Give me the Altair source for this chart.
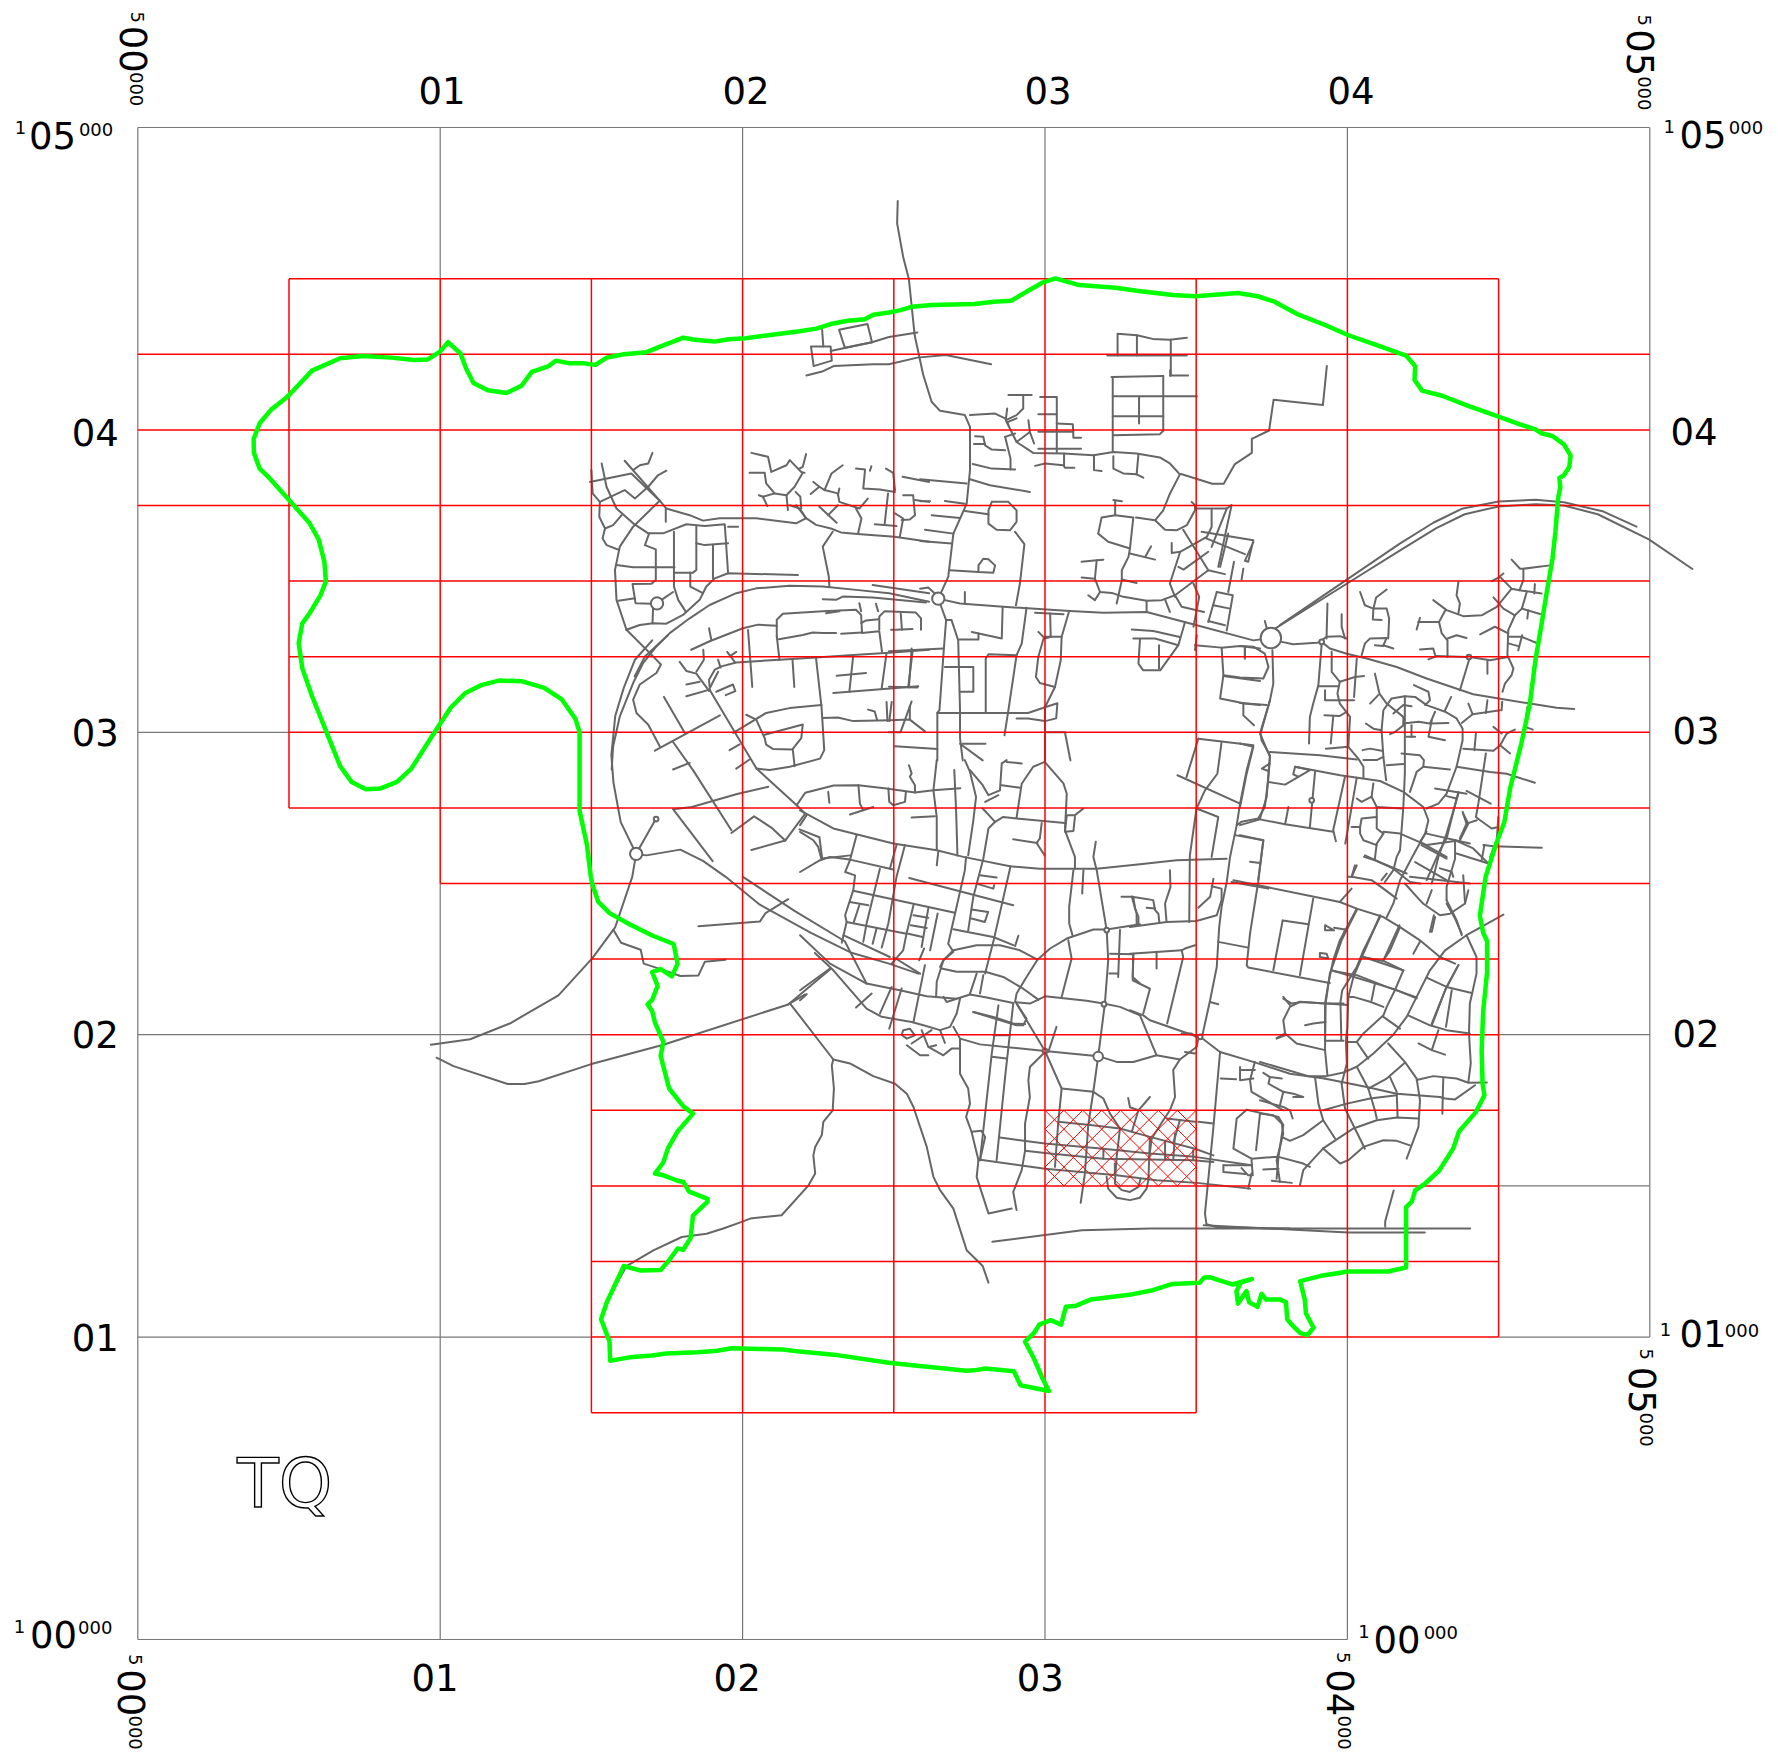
import altair as alt
import pandas as pd

# All coordinates are metres east / north of the sheet origin (TQ 500000, 100000)
grey_h = [(5000, 0, 5000), (3000, 0, 500), (2000, 0, 1500), (2000, 4500, 5000), (1500, 4500, 5000),
          (1000, 0, 1500), (1000, 4500, 5000), (0, 0, 4000)]
grey_v = [(0, 0, 5000), (1000, 0, 2500), (1000, 4500, 5000), (2000, 0, 750), (2000, 4500, 5000),
          (3000, 0, 750), (3000, 4500, 5000), (4000, 0, 1000), (4000, 4500, 5000), (5000, 1000, 5000)]
red_h = [(4500, 500, 4500), (4250, 0, 5000), (4000, 0, 5000), (3750, 0, 5000), (3500, 500, 5000),
         (3250, 500, 5000), (3000, 500, 5000), (2750, 500, 5000), (2500, 1000, 5000), (2250, 1500, 4500),
         (2000, 1500, 4500), (1750, 1500, 4500), (1500, 1500, 4500), (1250, 1500, 4500), (1000, 1500, 4500),
         (750, 1500, 3500)]
red_v = [(500, 2750, 4500), (1000, 2500, 4500), (1500, 750, 4500), (2000, 750, 4500), (2500, 750, 4500),
         (3000, 750, 4500), (3500, 750, 4500), (4000, 1000, 4500), (4500, 1000, 4500)]
# crossing hatch of the square 3000-3500 E, 1500-1750 N: n - e and n + e of each diagonal
hatch_up = [-2000, -1937.5, -1875, -1812.5, -1750, -1687.5, -1625, -1562.5, -1500, -1437.5, -1375, -1312.5, -1250]
hatch_down = [4500, 4562.5, 4625, 4687.5, 4750, 4812.5, 4875, 4937.5, 5000, 5062.5, 5125, 5187.5, 5250]

boundary = [(1026,4290),(1067,4253),(1086,4202),(1110,4155),(1157,4131),(1219,4122),(1269,4146),(1303,4192),(1359,4211),(1382,4229),(1429,4220),(1476,4220),(1513,4215),(1551,4239),(1607,4250),(1682,4257),(1729,4276),(1766,4290),(1804,4305),(1841,4298),(1907,4292),(1954,4300),(2010,4303),(2085,4313),(2188,4326),(2244,4335),(2291,4350),(2348,4361),(2404,4366),(2432,4381),(2484,4388),(2522,4396),(2559,4407),(2625,4413),(2766,4416),(2831,4424),(2888,4427),(2953,4465),(2994,4488),(3034,4501),(3113,4479),(3234,4470),(3309,4459),(3422,4446),(3497,4442),(3638,4453),(3703,4442),(3759,4424),(3834,4383),(3928,4346),(4003,4313),(4097,4280),(4194,4246),(4224,4211),(4222,4165),(4247,4130),(4313,4113),(4397,4080),(4500,4044),(4575,4017),(4622,4002),(4641,3989),(4678,3980),(4716,3952),(4738,3915),(4734,3878),(4716,3850),(4701,3841),(4704,3810),(4697,3776),(4688,3665),(4678,3573),(4659,3462),(4641,3351),(4622,3240),(4603,3092),(4575,2962),(4538,2814),(4519,2703),(4491,2629),(4457,2522),(4438,2393),(4449,2337),(4462,2309),(4462,2207),(4449,2078),(4444,1948),(4447,1837),(4453,1800),(4425,1744),(4369,1680),(4350,1624),(4303,1550),(4256,1507),(4224,1485),(4213,1448),(4194,1430),(4194,1230),(4134,1217),(4078,1217),(4003,1217),(3919,1204),(3844,1185),(3859,1124),(3863,1078),(3888,1031),(3868,1007),(3844,1013),(3816,1041),(3801,1059),(3797,1115),(3778,1124),(3731,1124),(3716,1143),(3703,1100),(3675,1115),(3666,1152),(3638,1111),(3633,1152),(3647,1180),(3684,1192),(3619,1174),(3572,1189),(3544,1198),(3525,1196),(3512,1180),(3422,1176),(3356,1155),(3291,1142),(3253,1137),(3150,1124),(3103,1104),(3069,1100),(3053,1041),(3019,1056),(2981,1041),(2963,1013),(2934,985),(2963,930),(2991,865),(3013,822),(2919,841),(2897,887),(2803,896),(2766,890),(2738,889),(2653,898),(2569,906),(2484,915),(2301,942),(2189,952),(2133,959),(2058,961),(1963,963),(1916,955),(1851,950),(1748,946),(1701,939),(1626,933),(1562,922),(1560,985),(1532,1059),(1551,1115),(1607,1235),(1663,1220),(1729,1222),(1757,1254),(1785,1293),(1804,1289),(1828,1328),(1836,1402),(1884,1448),(1884,1457),(1823,1481),(1804,1513),(1785,1517),(1738,1535),(1710,1541),(1738,1578),(1753,1624),(1785,1680),(1836,1739),(1804,1763),(1757,1822),(1729,1930),(1738,1976),(1710,2041),(1701,2078),(1686,2100),(1701,2115),(1719,2161),(1701,2207),(1729,2217),(1766,2193),(1785,2235),(1772,2300),(1701,2328),(1626,2365),(1560,2402),(1523,2439),(1504,2494),(1498,2522),(1485,2629),(1461,2740),(1461,3000),(1447,3045),(1401,3110),(1344,3147),(1269,3169),(1194,3171),(1138,3157),(1082,3129),(1035,3082),(969,2981),(904,2879),(857,2836),(801,2814),(754,2812),(707,2836),(669,2888),(632,2981),(576,3120),(544,3212),(532,3295),(544,3360),(567,3392),(604,3453),(622,3499),(617,3564),(598,3638),(567,3693),(501,3767),(435,3841),(403,3872),(384,3924),(383,3970),(403,4022),(441,4067),(491,4106),(529,4146),(576,4196),(669,4237),(744,4244),(838,4239),(913,4231),(959,4233),(997,4257),(1026,4290)]

roads_west = [
 [(1567,2877),(1572,2954),(1594,3053),(1638,3163),(1671,3229),(1715,3284),(1759,3328),(1825,3377),(1891,3421),(1979,3460),(2045,3476),(2155,3485),(2265,3482),(2375,3471),(2485,3460),(2617,3432)],
 [(1648,2598),(1597,2703),(1573,2833),(1566,2925),(1579,3055),(1607,3147),(1644,3240),(1701,3304)],
 [(1643,3185),(1677,3251),(1754,3322)],
 [(1616,3339),(1704,3251),(1730,3224),(1715,3196),(1660,3158),(1638,3108),(1649,3064),(1688,3025),(1726,2954)],
 [(1726,3766),(1638,3680),(1594,3614),(1578,3537),(1583,3438),(1616,3339)],
 [(1616,3339),(1660,3355),(1704,3361),(1748,3359),(1803,3388),(1858,3438),(1880,3482),(1908,3509),(1952,3526),(2183,3520)],
 [(1534,3889),(1550,3812),(1583,3740),(1638,3691),(1688,3658),(1737,3658),(1814,3688),(1875,3682),(1941,3688),(1952,3526)],
 [(1952,3680),(1985,3680)],
 [(1495,3828),(1632,3856),(1726,3766),(1748,3740),(1825,3718),(1869,3700),(1924,3708),(2045,3708),(2177,3691),(2210,3708)],
 [(2177,3751),(2210,3708),(2243,3686),(2292,3674),(2325,3661),(2380,3656),(2502,3647),(2617,3630)],
 [(1610,3898),(1726,3766)],
 [(1638,3867),(1660,3883),(1688,3889),(1702,3924)],
 [(1748,3865),(1720,3850),(1688,3812),(1644,3773),(1610,3801),(1528,3762),(1526,3713),(1545,3674),(1572,3685),(1600,3718)],
 [(1500,3867),(1504,3790),(1528,3762)],
 [(1545,3674),(1537,3641),(1550,3619),(1592,3603)],
 [(1746,3740),(1746,3696)],
 [(1691,3658),(1677,3619),(1713,3605),(1713,3504),(1699,3491),(1636,3490),(1646,3427),(1699,3425)],
 [(1583,3553),(1638,3546),(1775,3546)],
 [(1773,3663),(1773,3482),(1787,3438),(1812,3399)],
 [(1847,3680),(1847,3537),(1836,3528),(1775,3528)],
 [(1827,3528),(1827,3482),(1869,3460)],
 [(1847,3625),(1875,3619),(1952,3625)],
 [(1902,3619),(1902,3509)],
 [(1704,3413),(1702,3361)], [(1589,3435),(1644,3443)], [(1732,3438),(1770,3464)],
 [(1830,3273),(1891,3301),(2001,3344),(2051,3356),(2113,3352)],
 [(2113,3317),(2113,3372),(2133,3392),(2265,3400),(2375,3405),(2392,3388),(2395,3328),(2452,3334),(2461,3267)],
 [(2122,3240),(2113,3317)],
 [(2120,3308),(2199,3322),(2232,3330),(2265,3328),(2309,3328)],
 [(2326,3326),(2395,3330)],
 [(1889,3344),(1897,3304)],
 [(2392,3361),(2408,3370),(2450,3374)],
 [(2452,3339),(2452,3383),(2469,3400),(2573,3396),(2590,3377),(2590,3339)],
 [(2523,3392),(2527,3339)], [(2491,3339),(2507,3339),(2562,3342)],
 [(2276,3394),(2320,3400)], [(2441,3425),(2448,3400)], [(2386,3427),(2392,3400)],
 [(2265,3440),(2309,3438),(2331,3449),(2430,3446),(2606,3429)],
 [(2430,3487),(2617,3460)],
 [(2287,3482),(2285,3515),(2265,3614),(2298,3663)],
 [(1891,3150),(1889,3174),(1908,3207),(1930,3218),(1979,3231),(2122,3240),(2243,3247),(2353,3255),(2485,3263),(2617,3273)],
 [(1891,3145),(1919,3200)],
 [(2018,3338),(2032,3150)], [(2165,3240),(2171,3150)],
 [(2243,3244),(2261,3084),(2270,2941),(2256,2913),(2156,2886),(2090,2875),(2046,2880)],
 [(2366,3255),(2353,3134)], [(2311,3187),(2408,3196)], [(2300,3130),(2581,3152)],
 [(2476,3262),(2460,3146)], [(2562,3267),(2548,3152)],
 [(2265,3047),(2315,3049),(2366,3037),(2487,3040),(2553,3042),(2603,3003)],
 [(2553,3086),(2553,3042)], [(2415,3075),(2437,3069),(2445,3040)],
 [(2479,3037),(2476,3100)], [(2485,3037),(2493,3100)],
 [(2504,2954),(2644,2945)],
 [(1740,3117),(1809,2998)], [(1710,2939),(1925,3056)],
 [(1770,2968),(1836,2875),(1963,2676)],
 [(1891,3141),(1969,3009),(2046,2880),(2179,2759)],
 [(1814,3119),(1891,3141)],
 [(1792,3233),(1814,3203),(1847,3194),(1889,3137)],
 [(1870,3273),(1872,3240),(1847,3200)],
 [(1814,3158),(1858,3167)],
 [(1919,3240),(1927,3214)], [(1949,3266),(1974,3233)], [(1979,3266),(1957,3251)],
 [(1913,3134),(1968,3158),(1976,3136),(1944,3123)],
 [(1969,2998),(2078,3064),(2155,3080),(2261,3090)],
 [(2012,3058),(2045,3042),(2073,2981),(2078,2959),(2100,2945),(2164,2943),(2194,2981),(2199,3026),(2073,2992)],
 [(2166,2943),(2172,2888)],
 [(1957,2941),(1990,2960)], [(1979,2880),(2023,2910)], [(1770,2877),(1825,2899)],
 [(2029,3924),(2084,3911),(2095,3861),(2145,3883),(2156,3900),(2194,3861),(2205,3858)],
 [(2023,3858),(2073,3858),(2078,3823),(2106,3790),(2067,3779),(2054,3784)],
 [(2067,3779),(2082,3748)],
 [(2106,3790),(2145,3784),(2172,3812),(2199,3858)],
 [(2210,3920),(2199,3878),(2188,3872)],
 [(2145,3784),(2150,3735)],
 [(2175,3795),(2191,3779),(2194,3740)],
 [(2156,3751),(2189,3740),(2210,3708)],
 [(2331,3883),(2294,3856),(2271,3801),(2315,3790),(2320,3762),(2386,3740),(2414,3773)],
 [(2234,3828),(2254,3812),(2225,3788)], [(2254,3812),(2271,3801)], [(2320,3806),(2315,3784)],
 [(2254,3746),(2311,3693)], [(2315,3751),(2283,3718)],
 [(2375,3740),(2393,3707),(2382,3658)],
 [(2375,3872),(2405,3869),(2399,3806),(2454,3803),(2504,3795)],
 [(2426,3880),(2421,3865)],
 [(2474,3872),(2498,3858),(2504,3801)],
 [(2481,3790),(2470,3691)], [(2437,3688),(2509,3682)],
 [(2504,3724),(2531,3707),(2520,3647)],
 [(2531,3784),(2564,3784),(2570,3718),(2553,3704),(2526,3702)],
 [(2570,3768),(2617,3762)], [(2529,3845),(2617,3828)],
]

roads_north = [
 [(2513,4757),(2511,4683),(2531,4572),(2550,4498),(2569,4313),(2597,4183),(2625,4093),(2653,4063),(2735,4049),(2752,4010),(2752,3867),(2741,3756),(2697,3657),(2680,3514),(2647,3442)],
 [(2226,4276),(2291,4276),(2295,4229),(2235,4211),(2226,4276)],
 [(2263,4331),(2267,4276)],
 [(2319,4331),(2413,4350),(2428,4290),(2338,4272),(2319,4331)],
 [(2291,4261),(2428,4290)], [(2428,4290),(2484,4307),(2578,4322)],
 [(2211,4180),(2263,4193),(2301,4211),(2432,4217),(2484,4217),(2578,4239),(2672,4248),(2822,4217)],
 [(3206,4246),(3469,4246)],
 [(3240,4246),(3240,4318),(3304,4313),(3304,4246)],
 [(3304,4313),(3356,4301),(3413,4298),(3469,4305)],
 [(3416,4298),(3416,4180),(3473,4180)],
 [(3220,4175),(3391,4178)], [(3414,4197),(3414,4178)],
 [(3224,4175),(3224,3927)],
 [(3391,4178),(3391,3997),(3380,3986),(3226,3982)],
 [(3224,4111),(3502,4111)], [(3224,4045),(3391,4045)], [(3311,4109),(3311,4021)],
 [(3932,4211),(3919,4082),(3756,4100),(3741,3998),(3684,3970),(3684,3924),(3628,3887),(3591,3822),(3553,3822),(3450,3854)],
 [(2873,4027),(2906,3960),(2961,3924),(3061,3922),(3160,3916),(3226,3927),(3303,3922),(3380,3909),(3413,3889),(3446,3853)],
 [(2752,4049),(2835,4054),(2868,4038),(2879,4016)],
 [(2879,4115),(2956,4115)], [(2928,4115),(2928,4071),(2906,4049),(2871,4032)],
 [(2875,4071),(2871,4038)], [(2879,4027),(2906,4038)],
 [(2906,3960),(2950,3993)], [(2945,4032),(2950,3993),(2964,3955)],
 [(2868,3977),(2886,3905),(2886,3869)], [(2868,3977),(2901,3988)],
 [(2769,3979),(2796,3977),(2802,3949),(2824,3935),(2868,3933)],
 [(2765,3953),(2802,3953)],
 [(2761,3887),(2824,3872),(2901,3869)],
 [(2984,4109),(3039,4109),(3039,3927)], [(2978,4052),(3039,4052)],
 [(3039,4021),(3092,4019),(3094,3974),(3119,3974)],
 [(2978,3994),(3094,3994)], [(2978,3938),(3119,3938)],
 [(2967,3881),(3000,3889),(3061,3883),(3066,3875),(3097,3875)],
 [(3063,3922),(3063,3883)],
 [(3162,3916),(3162,3867),(3187,3864)],
 [(3226,3913),(3226,3872),(3259,3856),(3303,3853),(3325,3842)],
 [(3309,3920),(3303,3853)],
 [(2587,3837),(2741,3823)], [(2752,3837),(2818,3817),(2950,3795)],
 [(2587,3764),(2620,3764)], [(2669,3765),(2735,3756)],
 [(2735,3732),(2813,3721)],
 [(2824,3762),(2879,3762),(2906,3734),(2906,3696),(2884,3668),(2840,3670),(2813,3690),(2813,3734),(2824,3762)],
 [(2901,3663),(2932,3622),(2917,3492),(2904,3420)],
 [(2625,3718),(2719,3709)], [(2603,3670),(2697,3657)], [(2587,3633),(2691,3624)],
 [(2686,3536),(2780,3530),(2829,3528),(2835,3552),(2813,3572),(2796,3574),(2780,3552),(2780,3530)],
 [(2647,3442),(2719,3426),(2862,3415),(3083,3401),(3193,3395),(3336,3398),(3502,3354),(3689,3304),(3747,3312)],
 [(2735,3464),(2735,3426)],
 [(2860,3415),(2857,3310),(2758,3332)], [(2780,3327),(2780,3307),(2717,3307)],
 [(2939,3412),(2923,3293),(2906,3255),(2813,3258),(2804,3244),(2804,3064)],
 [(2906,3255),(2879,3073),(2866,2990)],
 [(2967,3395),(3061,3390)], [(3017,3393),(3019,3316)],
 [(3080,3401),(3055,3316),(3052,3238),(3033,3150),(3000,3083)],
 [(3019,3316),(3000,3310),(2978,3332)],
 [(2997,3316),(2978,3250),(2970,3183),(2983,3163),(3033,3150)],
 [(3000,3316),(3055,3316)],
 [(2664,3277),(2484,3268)],
 [(2587,3475),(2614,3479),(2636,3459)],
 [(2653,3426),(2673,3371),(2666,3282),(2651,3073),(2644,3064),(2644,2907)],
 [(2675,3371),(2691,3371),(2713,3304),(2719,3073),(2719,2981),(2728,2907)],
 [(2669,3216),(2763,3216),(2763,3134),(2719,3134)],
 [(2719,2962),(2794,2907)], [(2728,2962),(2803,2962)],
 [(2644,3064),(2944,3064),(3000,3083),(3041,3096),(3037,3046),(3000,3037),(2944,3046),(2906,3046)],
 [(3000,3000),(3066,3000),(3084,2907)], [(3000,3083),(3000,2907)],
 [(2484,3000),(2522,3000),(2559,3102)], [(2578,3148),(2484,3151)], [(2559,3277),(2550,3148)],
 [(3226,3768),(3254,3764)], [(3232,3764),(3232,3718)],
 [(3232,3718),(3187,3710),(3176,3657),(3209,3630),(3281,3608)],
 [(3232,3718),(3292,3710),(3281,3608),(3276,3580),(3254,3536),(3254,3503),(3237,3426)],
 [(3281,3591),(3364,3571)], [(3351,3615),(3331,3580)], [(3254,3505),(3303,3494)],
 [(3121,3564),(3171,3569),(3193,3571)], [(3171,3569),(3165,3508),(3121,3512)],
 [(3165,3508),(3182,3464),(3221,3461),(3259,3448),(3336,3435),(3386,3437),(3430,3453),(3540,3536)],
 [(3182,3464),(3165,3437),(3143,3453)],
 [(3336,3435),(3336,3398)], [(3397,3439),(3413,3398)],
 [(3430,3453),(3452,3415),(3526,3398)],
 [(3301,3710),(3364,3701),(3391,3734),(3413,3789),(3446,3853)],
 [(3364,3701),(3397,3670),(3435,3668),(3469,3685),(3496,3734),(3496,3751),(3485,3762)],
 [(3457,3670),(3540,3536),(3595,3523)],
 [(3413,3492),(3447,3597),(3535,3646),(3551,3679),(3551,3737)],
 [(3502,3740),(3601,3740)], [(3441,3547),(3458,3538),(3540,3597)],
 [(3413,3492),(3430,3448)], [(3419,3626),(3419,3593),(3447,3597)],
 [(3491,3492),(3510,3448),(3491,3349)],
 [(3601,3740),(3551,3613)], [(3617,3751),(3573,3547)], [(3601,3740),(3617,3751)],
 [(3518,3663),(3689,3635),(3672,3564),(3661,3567),(3689,3629)],
 [(3529,3643),(3661,3589)], [(3606,3657),(3579,3547)],
 [(3625,3564),(3606,3464)], [(3656,3541),(3650,3505)],
 [(3568,3464),(3621,3453),(3601,3337)], [(3568,3464),(3540,3365)],
 [(3557,3420),(3612,3409)], [(3540,3368),(3595,3354)],
 [(3287,3340),(3358,3335),(3446,3315)], [(3292,3310),(3364,3310),(3441,3288)],
 [(3463,3365),(3441,3288),(3381,3205),(3325,3205),(3309,3227),(3314,3307)],
 [(3377,3288),(3377,3211)], [(3502,3321),(3496,3272)],
 [(3496,3288),(3584,3280),(3645,3285),(3711,3277)],
 [(3584,3280),(3590,3189),(3579,3112),(3661,3095),(3711,3090)],
 [(3595,3185),(3711,3170)], [(3661,3277),(3661,3244)],
]

roads_east = [
 [(3778,3355),(4003,3508),(4172,3623),(4284,3693),(4378,3739),(4500,3763),(4622,3769),(4716,3761),(4847,3730),(4956,3680)],
 [(3759,3342),(4007,3497),(4181,3606),(4294,3675),(4388,3721),(4500,3747),(4622,3754),(4716,3750),(4828,3721),(4997,3638),(5141,3540)],
 [(3727,3368),(3733,3346)],
 [(3783,3299),(3821,3291),(3898,3296),(3915,3299),(3942,3277),(3998,3260),(4064,3244),(4163,3216),(4262,3178),(4416,3126),(4604,3095),(4692,3081),(4750,3077)],
 [(3915,3304),(3931,3316),(3975,3318),(3998,3310)],
 [(3934,3426),(3931,3310)], [(3981,3390),(3981,3349),(3992,3310)],
 [(3915,3293),(3904,3156),(3887,3095),(3876,3051),(3873,2963)],
 [(3904,3152),(3970,3152)],
 [(3948,3266),(3948,3200),(3975,3167),(4025,3183),(4055,3186)],
 [(3975,3167),(3967,3128),(3975,3095),(4009,3051),(4003,2952),(4036,2913),(4053,2886),(4053,2851)],
 [(3926,3139),(3926,3106),(4022,3106)], [(4031,3244),(4022,3117)],
 [(3924,3056),(3975,3054),(3998,3068)], [(3953,3051),(3945,2963)], [(3929,2946),(4003,2952)],
 [(3645,3097),(3733,3090)], [(3656,3095),(3656,3056),(3691,3023)],
 [(3752,3271),(3755,3161),(3744,3106),(3713,2996),(3716,2974),(3744,2924),(3739,2864),(3733,2786),(3711,2715)],
 [(3645,3285),(3689,3283),(3727,3260),(3739,3216),(3722,3178),(3645,3181),(3590,3189)],
 [(3661,3280),(3661,3244)],
 [(3645,2963),(3689,2952),(3667,2864),(3645,2753)],
 [(3744,2935),(3909,2924),(4031,2910)],
 [(3744,2897),(3717,2880),(3739,2872)],
 [(3739,2836),(3794,2827),(3876,2875),(3827,2886),(3821,2861),(3838,2853)],
 [(3827,2886),(3976,2858),(4108,2839),(4185,2803),(4251,2753),(4268,2709),(4257,2665),(4218,2594),(4174,2511),(4152,2434),(4130,2389)],
 [(3893,2869),(3876,2687)],
 [(3992,2853),(3953,2676),(3962,2640)],
 [(3711,2712),(3794,2696),(3953,2671)],
 [(3805,2753),(3794,2696)], [(3645,2693),(3711,2712)],
 [(3645,2660),(3722,2643),(3705,2511)], [(3678,2572),(3711,2568)],
 [(4031,2850),(3993,2632)],
 [(4031,2781),(4047,2770),(4080,2787),(4097,2753),(4097,2682),(4119,2665)],
 [(4086,2831),(4080,2787)], [(4097,2753),(4179,2748)],
 [(4014,2687),(4042,2687),(4042,2665),(4053,2643),(4097,2627)],
 [(4042,2687),(4047,2715),(4097,2720)],
 [(4119,2665),(4097,2632),(4091,2583)],
 [(4119,2671),(4174,2665),(4262,2627),(4361,2641),(4416,2616),(4466,2566)],
 [(4091,3194),(4106,3128),(4130,3095),(4185,3051),(4185,3023),(4157,3001),(4141,2994)],
 [(4102,3123),(4075,3095)], [(4061,3029),(4086,3012),(4113,3007)],
 [(4190,3119),(4146,3112),(4119,3073),(4113,3007),(4119,2919),(4128,2842)],
 [(4190,3119),(4224,3117),(4262,3090),(4323,3068),(4361,3046),(4381,3012),(4381,2974),(4361,2886),(4328,2797),(4301,2764),(4262,2748)],
 [(4190,3117),(4190,2864),(4185,2753),(4174,2610),(4163,2588),(4152,2544),(4124,2505)],
 [(4152,3062),(4185,3090),(4212,3086)],
 [(4185,3029),(4235,3035),(4273,3029),(4334,3031)],
 [(4279,3040),(4268,2985),(4323,2974)], [(4290,3068),(4273,3029)],
 [(4196,2985),(4224,2985)], [(4212,3023),(4212,2985)],
 [(4050,2941),(4075,2946),(4113,2939)], [(4053,2908),(4097,2908),(4119,2919)],
 [(4130,2891),(4185,2895)],
 [(4179,2930),(4240,2924),(4253,2908),(4251,2886),(4229,2869),(4207,2803)],
 [(4251,2886),(4339,2877)],
 [(4361,2886),(4472,2869),(4527,2863),(4620,2833)],
 [(4290,2814),(4394,2797)], [(4328,2789),(4361,2781)], [(4394,2806),(4474,2764)],
 [(4383,2946),(4483,2939),(4505,2957),(4527,2996),(4554,3009)],
 [(4483,3018),(4510,2996)], [(4505,2957),(4538,2930)],
 [(4458,2930),(4433,2764),(4425,2720),(4439,2709),(4477,2682),(4499,2687)],
 [(4425,2996),(4420,2941)],
 [(4367,2803),(4328,2649),(4306,2610),(4262,2511)],
 [(4381,2737),(4394,2698),(4372,2649)], [(4394,2698),(4428,2709)],
 [(4499,2720),(4494,2643),(4472,2588)],
 [(4450,2627),(4483,2623),(4643,2618)], [(4453,2627),(4444,2577)],
 [(4361,2599),(4461,2568)],
 [(4262,2671),(4240,2638),(4328,2588)], [(4224,2571),(4328,2511)],
 [(4055,2588),(4091,2577),(4196,2533)], [(4130,2533),(4113,2511)],
 [(4306,2550),(4345,2539),(4350,2522)], [(4025,2560),(4014,2522),(4003,2522)],
 [(4543,3571),(4571,3541),(4582,3541),(4670,3552)],
 [(4582,3541),(4582,3503),(4569,3470),(4543,3475),(4505,3514),(4477,3500)],
 [(4516,3525),(4499,3512)],
 [(4569,3470),(4642,3459)], [(4620,3490),(4618,3459)],
 [(4593,3464),(4577,3409),(4554,3387),(4532,3338),(4529,3255),(4549,3211),(4543,3189),(4521,3161),(4513,3134)],
 [(4483,3446),(4516,3409),(4554,3387)],
 [(4577,3409),(4637,3391)], [(4598,3404),(4595,3376)],
 [(4543,3475),(4494,3415),(4444,3387),(4383,3384),(4328,3404),(4284,3437)],
 [(4367,3497),(4361,3453),(4372,3426),(4367,3393)],
 [(4323,3402),(4303,3365),(4312,3327),(4331,3304),(4331,3249)],
 [(4240,3379),(4229,3340)], [(4234,3365),(4303,3365)],
 [(4331,3310),(4361,3321),(4394,3312)],
 [(4439,3324),(4488,3349),(4532,3327)],
 [(4532,3316),(4576,3316),(4624,3296)],
 [(4532,3294),(4565,3285)], [(4578,3321),(4565,3271)],
 [(4268,3241),(4295,3252),(4394,3249),(4405,3249),(4472,3238),(4532,3249)],
 [(4240,3274),(4284,3277),(4290,3255)], [(4463,3236),(4463,3194)],
 [(4402,3238),(4372,3139)],
 [(4042,3464),(4058,3420),(4086,3409),(4130,3409),(4138,3376),(4135,3310)],
 [(4130,3472),(4095,3446),(4086,3409),(4084,3373),(4113,3371)],
 [(4047,3255),(4058,3294),(4075,3310),(4130,3312),(4119,3288),(4152,3277)],
 [(4091,3288),(4119,3285)],
 [(4220,3156),(4268,3134),(4273,3106),(4257,3090)],
 [(4343,3117),(4323,3073)],
 [(4400,3095),(4414,3060),(4505,3073)], [(4414,3060),(4378,3031)],
 [(4463,3106),(4458,3064)], [(4512,3101),(4510,3073)],
 [(4595,3084),(4588,3018),(4613,3009)],
]

roads_centre = [
 [(1648,2598),(1682,2593),(1794,2612),(1869,2575),(1944,2522),(2057,2430),(2226,2337),(2357,2272),(2484,2235),(2581,2202)],
 [(2001,2522),(2169,2411),(2338,2309),(2410,2169)] ,
 [(2190,2742),(2300,2682),(2498,2632),(2642,2610),(2730,2588),(2884,2557),(2983,2549),(3105,2549),(3171,2549),(3314,2564),(3435,2577),(3601,2582)],
 [(2190,2538),(2256,2577),(2289,2588),(2355,2579),(2498,2546)],
 [(2179,2759),(2207,2800),(2301,2824),(2383,2825),(2476,2814),(2570,2801),(2631,2808),(2720,2815)],
 [(1770,2746),(1901,2574)],
 [(1776,2746),(1832,2753),(1982,2796),(2085,2820)],
 [(1963,2667),(2038,2722),(2095,2685),(2141,2642)],
 [(2141,2642),(2207,2731),(2179,2759)],
 [(2029,2611),(2141,2642)],
 [(2188,2679),(2254,2653),(2263,2583),(2357,2593)],
 [(2190,2329),(2289,2235),(2410,2169),(2520,2147),(2609,2127),(2708,2119),(2752,2133),(2807,2123),(2895,2105)],
 [(2239,2270),(2300,2213),(2410,2086),(2460,2059),(2559,2042),(2598,2031),(2653,2015),(2686,2026),(2708,2070),(2719,2119)],
 [(2190,2147),(2289,2219)], [(2190,2114),(2212,2134)],
 [(2190,2671),(2234,2643),(2250,2621),(2261,2579)],
 [(2190,2693),(2212,2726)],
 [(2283,2803),(2287,2767)], [(2383,2825),(2388,2764),(2399,2742)], [(2355,2728),(2432,2753)],
 [(2482,2814),(2485,2770),(2498,2759),(2537,2770),(2540,2803)],
 [(2631,2808),(2642,2720),(2642,2612)], [(2559,2718),(2636,2722)],
 [(2550,2891),(2559,2864),(2553,2853),(2570,2825),(2570,2801)],
 [(2642,2908),(2631,2808)],
 [(2700,2875),(2706,2742),(2710,2610),(2710,2593)],
 [(2752,2875),(2794,2825),(2813,2792),(2851,2808),(2857,2897),(2873,2908)],
 [(2735,2908),(2752,2869),(2772,2786),(2763,2709),(2746,2593)],
 [(2857,2825),(2917,2817)], [(2873,2902),(2923,2897)],
 [(2802,2770),(2846,2792)], [(2794,2748),(2835,2704)],
 [(2999,2902),(2961,2886),(2923,2830),(2906,2718)],
 [(2999,2902),(3061,2831),(3072,2797),(3066,2676),(3099,2588),(3099,2549)],
 [(3127,2748),(3099,2726),(3072,2726),(3066,2671),(3094,2674),(3099,2720)],
 [(2835,2704),(2862,2720),(2906,2715),(3066,2700)],
 [(2835,2704),(2813,2682),(2796,2582),(2763,2456),(2746,2345)],
 [(2989,2700),(2983,2649),(2972,2634),(2999,2593)], [(2895,2646),(2975,2634)],
 [(2739,2588),(2735,2544),(2680,2301),(2697,2274),(2664,2246),(2642,2175),(2640,2130)],
 [(2647,2604),(2642,2560)],
 [(2377,2660),(2355,2577),(2339,2538),(2372,2527),(2366,2478),(2339,2395),(2344,2373),(2328,2304)],
 [(2454,2549),(2410,2368),(2399,2307)],
 [(2537,2627),(2509,2522),(2482,2368),(2460,2288)], [(2509,2627),(2487,2549)],
 [(2366,2476),(2702,2403)], [(2355,2439),(2416,2428)], [(2386,2428),(2368,2373)],
 [(2344,2373),(2542,2334)], [(2443,2351),(2430,2301)],
 [(2565,2428),(2542,2334),(2531,2279),(2493,2235)],
 [(2565,2395),(2614,2387)], [(2556,2362),(2609,2353)], [(2548,2334),(2595,2323)],
 [(2614,2417),(2592,2290)], [(2645,2401),(2620,2279)], [(2600,2285),(2584,2246)],
 [(2551,2518),(2895,2428)],
 [(2333,2329),(2487,2257)], [(2498,2257),(2587,2202)],
 [(2603,2230),(2565,2042)], [(2526,2153),(2485,2020)], [(2493,2158),(2454,2070)],
 [(2427,2136),(2375,2090)],
 [(2785,2527),(2840,2520)], [(2779,2498),(2829,2483),(2832,2494)],
 [(2757,2414),(2812,2406),(2801,2373),(2757,2384)],
 [(2886,2557),(2829,2307),(2802,2202)],
 [(2697,2349),(2829,2323),(2895,2296)], [(2912,2327),(2901,2293)],
 [(2653,2224),(2664,2246),(2697,2279),(2774,2296),(2851,2296),(2917,2279),(2975,2248)],
 [(2658,2219),(2708,2208),(2802,2208),(2862,2191),(2928,2152),(2978,2116)],
 [(2978,2116),(3000,2127),(3138,2112),(3193,2103),(3248,2092),(3314,2064),(3369,1932)],
 [(2975,2248),(2939,2191),(2906,2136),(2901,2108),(2950,2103),(2978,2116)],
 [(2975,2248),(3017,2285),(3072,2318),(3160,2348),(3204,2348),(3314,2365)],
 [(3077,2312),(3088,2252),(3055,2125)],
 [(3094,2544),(3080,2423),(3080,2368),(3091,2329)],
 [(3127,2544),(3123,2467)],
 [(3168,2638),(3160,2588),(3171,2544),(3204,2346),(3209,2246),(3198,2103),(3176,1929),(3160,1813),(3143,1701),(3132,1541),(3118,1444)],
 [(3253,2456),(3292,2456),(3298,2417),(3309,2390),(3309,2365)],
 [(3248,2346),(3242,2191)],
 [(3215,2268),(3292,2266),(3290,2191),(3314,2169)],
 [(3213,2202),(3242,2202)],
 [(2664,2125),(2675,2108),(2708,2119)],
 [(2763,2075),(2906,2031),(2928,2031),(2939,2053),(2906,2103)],
 [(2774,2202),(2752,2136)], [(2796,2197),(2785,2136)],
 [(2846,2097),(2824,1938),(2796,1684),(2785,1585)],
 [(2895,2103),(2868,1860),(2840,1585)],
 [(2829,1998),(2884,1998)], [(2824,1927),(2873,1921)],
 [(2906,2103),(3000,1946),(3055,1822),(3044,1712),(3033,1563)],
 [(3038,2026),(3011,1943)],
 [(2697,2026),(2719,1987),(2785,1968),(3000,1946),(3176,1929)],
 [(3000,1943),(2950,1893),(2945,1849),(2950,1794),(2934,1706),(2934,1616),(2923,1552),(2895,1480),(2906,1420)],
 [(2719,1987),(2719,1871),(2746,1822),(2752,1772),(2739,1728),(2757,1679),(2790,1682),(2802,1662),(2785,1585)],
 [(2757,1679),(2780,1585)],
 [(3176,1929),(3237,1910),(3292,1910),(3369,1932),(3446,1918),(3502,1960),(3507,1987),(3485,2004),(3452,2004)],
 [(2531,2015),(2553,2020),(2570,1998),(2543,1987),(2526,1999),(2531,2015)],
 [(2559,1971),(2625,2015)], [(2543,1965),(2587,1932),(2614,1932)],
 [(2592,2015),(2614,1960),(2664,1932),(2691,1954),(2719,1954)],
 [(2653,2015),(2669,1973)], [(2620,1960),(2640,1965)],
 [(3055,1822),(3160,1811),(3193,1789),(3215,1739),(3248,1690)],
 [(3446,1918),(3424,1883),(3430,1794),(3413,1750),(3391,1717),(3353,1657),(3345,1596)],
 [(3496,1938),(3463,1943)],
 [(3513,1993),(3579,1943),(3689,1910),(3810,1871),(3924,1855)],
 [(3579,1943),(3557,1695),(3529,1409),(3534,1373),(3567,1364),(3810,1359)],
 [(3581,1855),(3632,1853)], [(3645,1893),(3645,1849),(3689,1855)], [(3650,1883),(3694,1883)],
 [(3694,1910),(3678,1849),(3683,1811),(3788,1750)],
 [(3667,1752),(3634,1723),(3623,1623),(3683,1590)],
 [(3667,1752),(3772,1728),(3788,1701),(3772,1596),(3766,1524)],
 [(3711,1739),(3698,1618)],
 [(3683,1590),(3733,1594),(3772,1596),(3854,1574),(3876,1563)],
 [(3590,1568),(3590,1546),(3662,1539)], [(3590,1568),(3683,1568)],
 [(3683,1585),(3687,1535),(3672,1535),(3650,1559)], [(3683,1541),(3672,1491)],
 [(3722,1554),(3772,1557)], [(3750,1517),(3816,1510)],
 [(3044,1712),(3149,1701),(3248,1690),(3347,1662),(3496,1623),(3557,1601)],
 [(3507,1712),(3557,1706)], [(3402,1723),(3496,1712)],
 [(2851,1660),(3000,1640),(3193,1623),(3347,1607),(3496,1596),(3683,1568)],
 [(2934,1616),(3000,1609),(3193,1590),(3490,1585),(3557,1579)],
 [(2780,1587),(3000,1557),(3237,1535),(3369,1519),(3502,1510),(3678,1491)],
 [(2763,2075),(2829,2059),(2895,2037),(2934,2035)],
 [(2780,1585),(2774,1530),(2813,1409),(2890,1425)],
 [(3275,1791),(3281,1760),(3309,1750),(3347,1794)], [(3309,1750),(3287,1679)],
 [(3248,1690),(3237,1596),(3231,1508),(3237,1502),(3254,1486),(3281,1480),(3309,1497),(3316,1524)],
 [(3204,1530),(3209,1491),(3237,1461),(3281,1453),(3314,1461),(3336,1491),(3342,1519)],
 [(3347,1662),(3342,1519)],
 [(3193,1623),(3193,1590)], [(3397,1646),(3397,1590)], [(3430,1673),(3424,1585)],
 [(3446,1717),(3424,1640)], [(3490,1618),(3490,1585)], [(3231,1574),(3231,1535)],
 [(2826,1315),(3122,1353),(3347,1359),(4406,1359)],
 [(3525,1370),(4003,1346),(4256,1346)],
 [(4153,1485),(4125,1383),(4125,1365)],
]

roads_south = [
 [(988,1924),(1044,1896),(1223,1837),(1279,1837),(1326,1846),(1497,1902),(1738,1967),(2151,2100),(2207,2133)],
 [(2151,2100),(2291,2217)],
 [(2157,2103),(2300,1918),(2295,1899),(2302,1822),(2298,1750),(2267,1712),(2262,1668),(2240,1629),(2234,1601),(2240,1541),(2218,1502),(2129,1403),(2025,1392),(1997,1381),(1936,1359),(1881,1342),(1799,1331),(1705,1287),(1616,1235),(1545,1107)],
 [(2300,1918),(2355,1905),(2432,1863),(2504,1838),(2543,1805),(2565,1761),(2609,1629),(2631,1530),(2653,1486),(2697,1425),(2741,1287),(2794,1235),(2813,1180)],
 [(969,1967),(1099,1985),(1230,2037),(1391,2130),(1504,2254),(1579,2356),(1635,2522),(1648,2598)],
 [(1573,2346),(1598,2304),(1663,2281),(1673,2235),(1729,2217),(1794,2194),(1854,2196),(1875,2241),(1944,2248)],
 [(1854,2359),(2057,2374),(2076,2402),(2151,2448)],
 [(1648,2598),(1713,2713)],
]

roads_southeast = [
 [(3507,2979),(3689,2957),(3667,2875),(3645,2764),(3634,2693),(3612,2588),(3601,2505),(3584,2423),(3576,2356),(3568,2224),(3546,2114),(3518,1987)],
 [(3507,2979),(3468,2852)],
 [(3584,2968),(3570,2863),(3529,2808),(3501,2748),(3479,2593),(3477,2373)],
 [(3438,2858),(3645,2764)],
 [(3501,2748),(3573,2720),(3551,2588)],
 [(3634,2693),(3650,2704),(3705,2715),(3727,2753),(3738,2841),(3744,2919),(3711,2996),(3744,3106)],
 [(3628,2660),(3722,2643),(3705,2505),(3678,2334),(3667,2230),(3672,2222),(3942,2171)],
 [(3413,2544),(3415,2489),(3397,2434),(3402,2373)],
 [(3281,2356),(3402,2373),(3501,2376),(3568,2395),(3584,2445),(3584,2483),(3551,2491)],
 [(3557,2516),(3546,2456),(3507,2420)],
 [(3287,2456),(3309,2453),(3358,2445),(3364,2412),(3375,2400),(3378,2373)],
 [(3287,2456),(3303,2400),(3303,2362)], [(3336,2420),(3364,2417)],
 [(3281,2268),(3452,2279),(3463,2285),(3496,2296)],
 [(3452,2279),(3457,2257),(3404,2037)],
 [(3292,2268),(3290,2180),(3347,2152),(3325,2070)],
 [(3369,2274),(3369,2219)],
 [(3281,2081),(3325,2064),(3347,2048),(3490,1998),(3518,1987)],
 [(3573,2307),(3672,2288)],
 [(3623,2511),(3705,2494),(3975,2439),(4031,2417),(4119,2389),(4174,2356),(4240,2312),(4306,2257),(4356,2235)],
 [(3617,2505),(3738,2483)], [(3975,2439),(4014,2483)],
 [(3887,2450),(3843,2197)],
 [(3786,2378),(3871,2365)], [(3786,2378),(3755,2213)],
 [(3926,2362),(3956,2345),(3926,2345),(3926,2362)], [(3956,2354),(3992,2348)], [(3987,2329),(3992,2348)],
 [(3909,2270),(3931,2268),(3937,2252),(3909,2257),(3909,2270)],
 [(4031,2417),(3975,2312),(3953,2246),(3937,2169),(3926,2103),(3926,1982)],
 [(4108,2389),(4053,2279),(4031,2224),(3983,2147),(3977,2108),(3980,1982)],
 [(4174,2356),(4141,2279),(4119,2246)], [(4240,2307),(4218,2268)],
 [(4053,2257),(4179,2215)],
 [(3953,2211),(4031,2197),(4130,2158),(4229,2123)],
 [(4367,2230),(4328,2158),(4279,2037)],
 [(3788,2119),(3816,2103),(3849,2108),(3926,2103),(3987,2103)],
 [(3766,1987),(3794,1998)],
 [(3546,2108),(3573,2101)],
 [(4058,2593),(4152,2549),(4207,2505),(4240,2500)],
 [(4014,2522),(4031,2560)], [(4014,2522),(4080,2511),(4119,2483),(4163,2450)],
 [(4190,2500),(4235,2450),(4251,2433),(4306,2395),(4339,2400),(4389,2434),(4400,2478)],
 [(4328,2434),(4356,2384),(4378,2334)], [(4290,2389),(4279,2340)],
 [(4207,2522),(4405,2500)], [(4262,2665),(4405,2632)], [(4245,2627),(4328,2582)],
 [(4367,2797),(4328,2665),(4301,2588),(4279,2500)],
 [(4383,2731),(4400,2698),(4372,2643)],
 [(4356,2643),(4356,2582),(4328,2489),(4328,2445)],
 [(4383,2527),(4389,2434)], [(4279,2478),(4262,2433)],
 [(4516,2397),(4394,2329),(4323,2279),(4273,2213),(4229,2125),(4196,2059),(4152,2000),(4086,1938),(4031,1894),(3987,1875),(3931,1863),(3871,1863),(3711,1910)],
 [(4394,2329),(4427,2257),(4427,2202),(4405,2103),(4402,2004),(4408,1905),(4400,1844)],
 [(4262,2189),(4328,2158),(4411,2138)],
 [(4367,2230),(4323,2147),(4290,2059),(4279,2031)],
 [(4345,2147),(4326,2026)],
 [(4201,2064),(4273,2031),(4328,2015),(4405,2004)],
 [(4301,2015),(4279,1949),(4323,1934)], [(4235,1971),(4279,1949)],
 [(4031,2412),(3981,2313),(3942,2202),(3928,2103),(3926,1949),(3934,1866)],
 [(3948,2213),(4157,2150),(4229,2120)],
 [(4108,2395),(4053,2268),(4020,2191),(4003,2125),(4000,2026),(3995,1982),(3998,1905),(3981,1838)],
 [(4172,2362),(4119,2246)],
 [(4050,2257),(4119,2244),(4185,2213)],
 [(4185,2213),(4157,2147),(4130,2092),(4119,2064),(4053,2004),(4031,1976),(4003,1976)],
 [(4003,2125),(4020,2125),(4075,2109),(4119,2092)],
 [(4091,2169),(4080,2114)], [(4119,2059),(4174,2020)], [(3931,2103),(4000,2098)],
 [(3926,2103),(3843,2109),(3810,2092),(3788,2048),(3794,2004),(3832,1971),(3926,1949)],
 [(3788,2125),(3810,2098)], [(3860,2031),(3887,2037),(3928,2042)], [(3794,2004),(3766,1989)],
 [(3926,1980),(3987,1980)], [(4031,1976),(4069,1921)],
 [(4135,1971),(4190,1910),(4229,1855),(4240,1783),(4235,1695),(4196,1590)],
 [(4190,1907),(4130,1855),(4069,1822)],
 [(4031,1894),(4069,1822),(4091,1750),(4097,1723)],
 [(4141,1860),(4163,1811),(4166,1728)],
 [(3924,1855),(4064,1827),(4163,1805),(4306,1794)],
 [(4229,1850),(4284,1863),(4361,1855),(4400,1841),(4461,1842)],
 [(4317,1855),(4314,1739)],
 [(4422,1833),(4356,1786),(4323,1789),(4306,1794)],
 [(3893,1860),(3904,1772),(3920,1717),(3959,1657)],
 [(3981,1838),(3992,1756),(4058,1623)],
 [(3920,1750),(3998,1772),(4075,1789),(4163,1800)],
 [(3920,1624),(4020,1690),(4097,1717),(4163,1726),(4235,1723)],
 [(3843,1502),(3854,1552),(3920,1624)],
 [(3920,1624),(3976,1574),(4003,1585),(4053,1629),(4119,1651),(4163,1649),(4207,1634)],
 [(3711,1739),(3755,1734),(3783,1706),(3788,1673),(3766,1585),(3777,1513)],
 [(3783,1662),(3810,1649),(3854,1668),(3920,1717)],
 [(3744,1860),(3739,1838),(3788,1811),(3821,1805),(3854,1794),(3821,1794)],
 [(3722,1874),(3744,1860),(3783,1855)],
 [(3788,1811),(3777,1767)],
 [(3711,1783),(3788,1761),(3810,1750),(3819,1723)],
 [(4328,2445),(4361,2379),(4378,2329)],
 [(4273,2340),(4286,2395)],
]

big_round = [(3747, 3312)]
mid_round = [(2647, 3442), (1648, 2598), (1717, 3426)]
minor_round = [(3176, 1928)]
small_round = [(3204, 2346), (3195, 2101), (3882, 2775), (4402, 3249), (1714, 2713), (3513, 1993), (3000, 1946), (3915, 3299)]

big_labels = [("01", 1006, 5077), ("02", 2011, 5077), ("03", 3010, 5077), ("04", 4012, 5077),
              ("01", 983, -171), ("02", 1982, -171), ("03", 2984, -171),
              ("04", -141, 3946), ("03", -141, 2954), ("02", -141, 1955), ("01", -141, 953),
              ("04", 5146, 3949), ("03", 5153, 2960), ("02", 5153, 1959),
              ("05", -282, 4928), ("05", 5176, 4932), ("00", -279, -29), ("01", 5176, 967), ("00", 4164, -45)]
small_labels = [("1", -388, 4978), ("000", -138, 4971), ("1", 5064, 4981), ("000", 5318, 4978),
                ("1", -391, 21), ("000", -141, 17), ("1", 5052, 1003), ("000", 5305, 1000),
                ("1", 4055, 4), ("000", 4309, 1)]
big_side = [("00", -59, 5259), ("05", 4925, 5247), ("00", -65, -176), ("05", 4931, 824), ("04", 3933, -176)]
small_side = [("5", -22, 5365), ("000", -26, 5127), ("5", 4961, 5355), ("000", 4961, 5113),
              ("5", -29, -67), ("000", -29, -308), ("5", 4968, 943), ("000", 4968, 694),
              ("5", 3966, -60), ("000", 3969, -308)]
sheet_label = [("TQ", 329, 437)]

X = alt.X("e:Q", axis=None, scale=alt.Scale(domain=[0, 5000], nice=False, zero=False))
Y = alt.Y("n:Q", axis=None, scale=alt.Scale(domain=[0, 5000], nice=False, zero=False))


def segments(horizontal, vertical):
    rows = []
    for n, a, b in horizontal:
        rows.append(dict(e=a, e2=b, n=n, n2=n))
    for e, a, b in vertical:
        rows.append(dict(e=e, e2=e, n=a, n2=b))
    return pd.DataFrame(rows)


def rules(df, color, width):
    return alt.Chart(df).mark_rule(color=color, strokeWidth=width).encode(
        x=X, y=Y, x2="e2:Q", y2="n2:Q")


def clip_pts(line_at_e, line_at_n):
    """Ends of a diagonal inside the hatched square."""
    w, east, s, north = 3000, 3500, 1500, 1750
    pts = []
    for e in (w, east):
        n = line_at_e(e)
        if s <= n <= north:
            pts.append((e, n))
    for n in (s, north):
        e = line_at_n(n)
        if w < e < east:
            pts.append((e, n))
    return pts


def clipped_hatch():
    rows = []
    for c in hatch_up:
        pts = clip_pts(lambda e: e + c, lambda n: n - c)
        if len(pts) == 2:
            rows.append(dict(e=pts[0][0], n=pts[0][1], e2=pts[1][0], n2=pts[1][1]))
    for c in hatch_down:
        pts = clip_pts(lambda e: c - e, lambda n: c - n)
        if len(pts) == 2:
            rows.append(dict(e=pts[0][0], n=pts[0][1], e2=pts[1][0], n2=pts[1][1]))
    return pd.DataFrame(rows)


def polylines(groups):
    rows = []
    idx = 0
    for group in groups:
        for line in group:
            idx += 1
            for i, (e, n) in enumerate(line):
                rows.append(dict(e=e, n=n, road=idx, i=i))
    return pd.DataFrame(rows)


road_df = polylines([roads_west, roads_north, roads_east, roads_centre, roads_south, roads_southeast])
roads = alt.Chart(road_df).mark_line(color="#666666", strokeWidth=2, strokeCap="round", strokeJoin="round").encode(
    x=X, y=Y, detail="road:N", order="i:Q")

green = alt.Chart(polylines([[boundary]])).mark_line(color="#00ff00", strokeWidth=4.5, strokeJoin="round", strokeCap="round").encode(
    x=X, y=Y, order="i:Q")


def ring(points, size):
    df = pd.DataFrame(points, columns=["e", "n"])
    return alt.Chart(df).mark_point(shape="circle", filled=True, fill="white", stroke="#666666",
                                    strokeWidth=2, opacity=1, size=size).encode(x=X, y=Y)


def labels(rows, size, angle=0, **kw):
    df = pd.DataFrame(rows, columns=["t", "e", "n"])
    return alt.Chart(df).mark_text(font="DejaVu Sans", fontSize=size, angle=angle, align="center",
                                   baseline="alphabetic", **kw).encode(x=X, y=Y, text="t:N")


sheet = alt.Chart(pd.DataFrame(sheet_label, columns=["t", "e", "n"])).mark_text(
    font="DejaVu Sans", fontSize=68, align="left", baseline="alphabetic", fill="white", stroke="black",
    strokeWidth=1.4).encode(x=X, y=Y, text="t:N")

chart = alt.layer(
    rules(segments(grey_h, grey_v), "#777777", 1.2),
    roads,
    ring(big_round, 420), ring(mid_round, 150), ring(minor_round, 90), ring(small_round, 22),
    rules(segments(red_h, red_v), "#ff0000", 1.5),
    rules(clipped_hatch(), "#ff0000", 1),
    green,
    labels(big_labels, 37, color="black"),
    labels(small_labels, 18, color="black"),
    labels(big_side, 37, angle=90, color="black"),
    labels(small_side, 18, angle=90, color="black"),
    sheet,
).properties(
    width=1512, height=1512,
    background="white",
    autosize=alt.AutoSizeParams(type="none"),
    padding={"left": 129.8, "top": 119.5, "right": 120, "bottom": 110},
).configure_view(strokeWidth=0, stroke=None)

chart.save("out.html", embed_options={"renderer": "svg", "actions": False})
